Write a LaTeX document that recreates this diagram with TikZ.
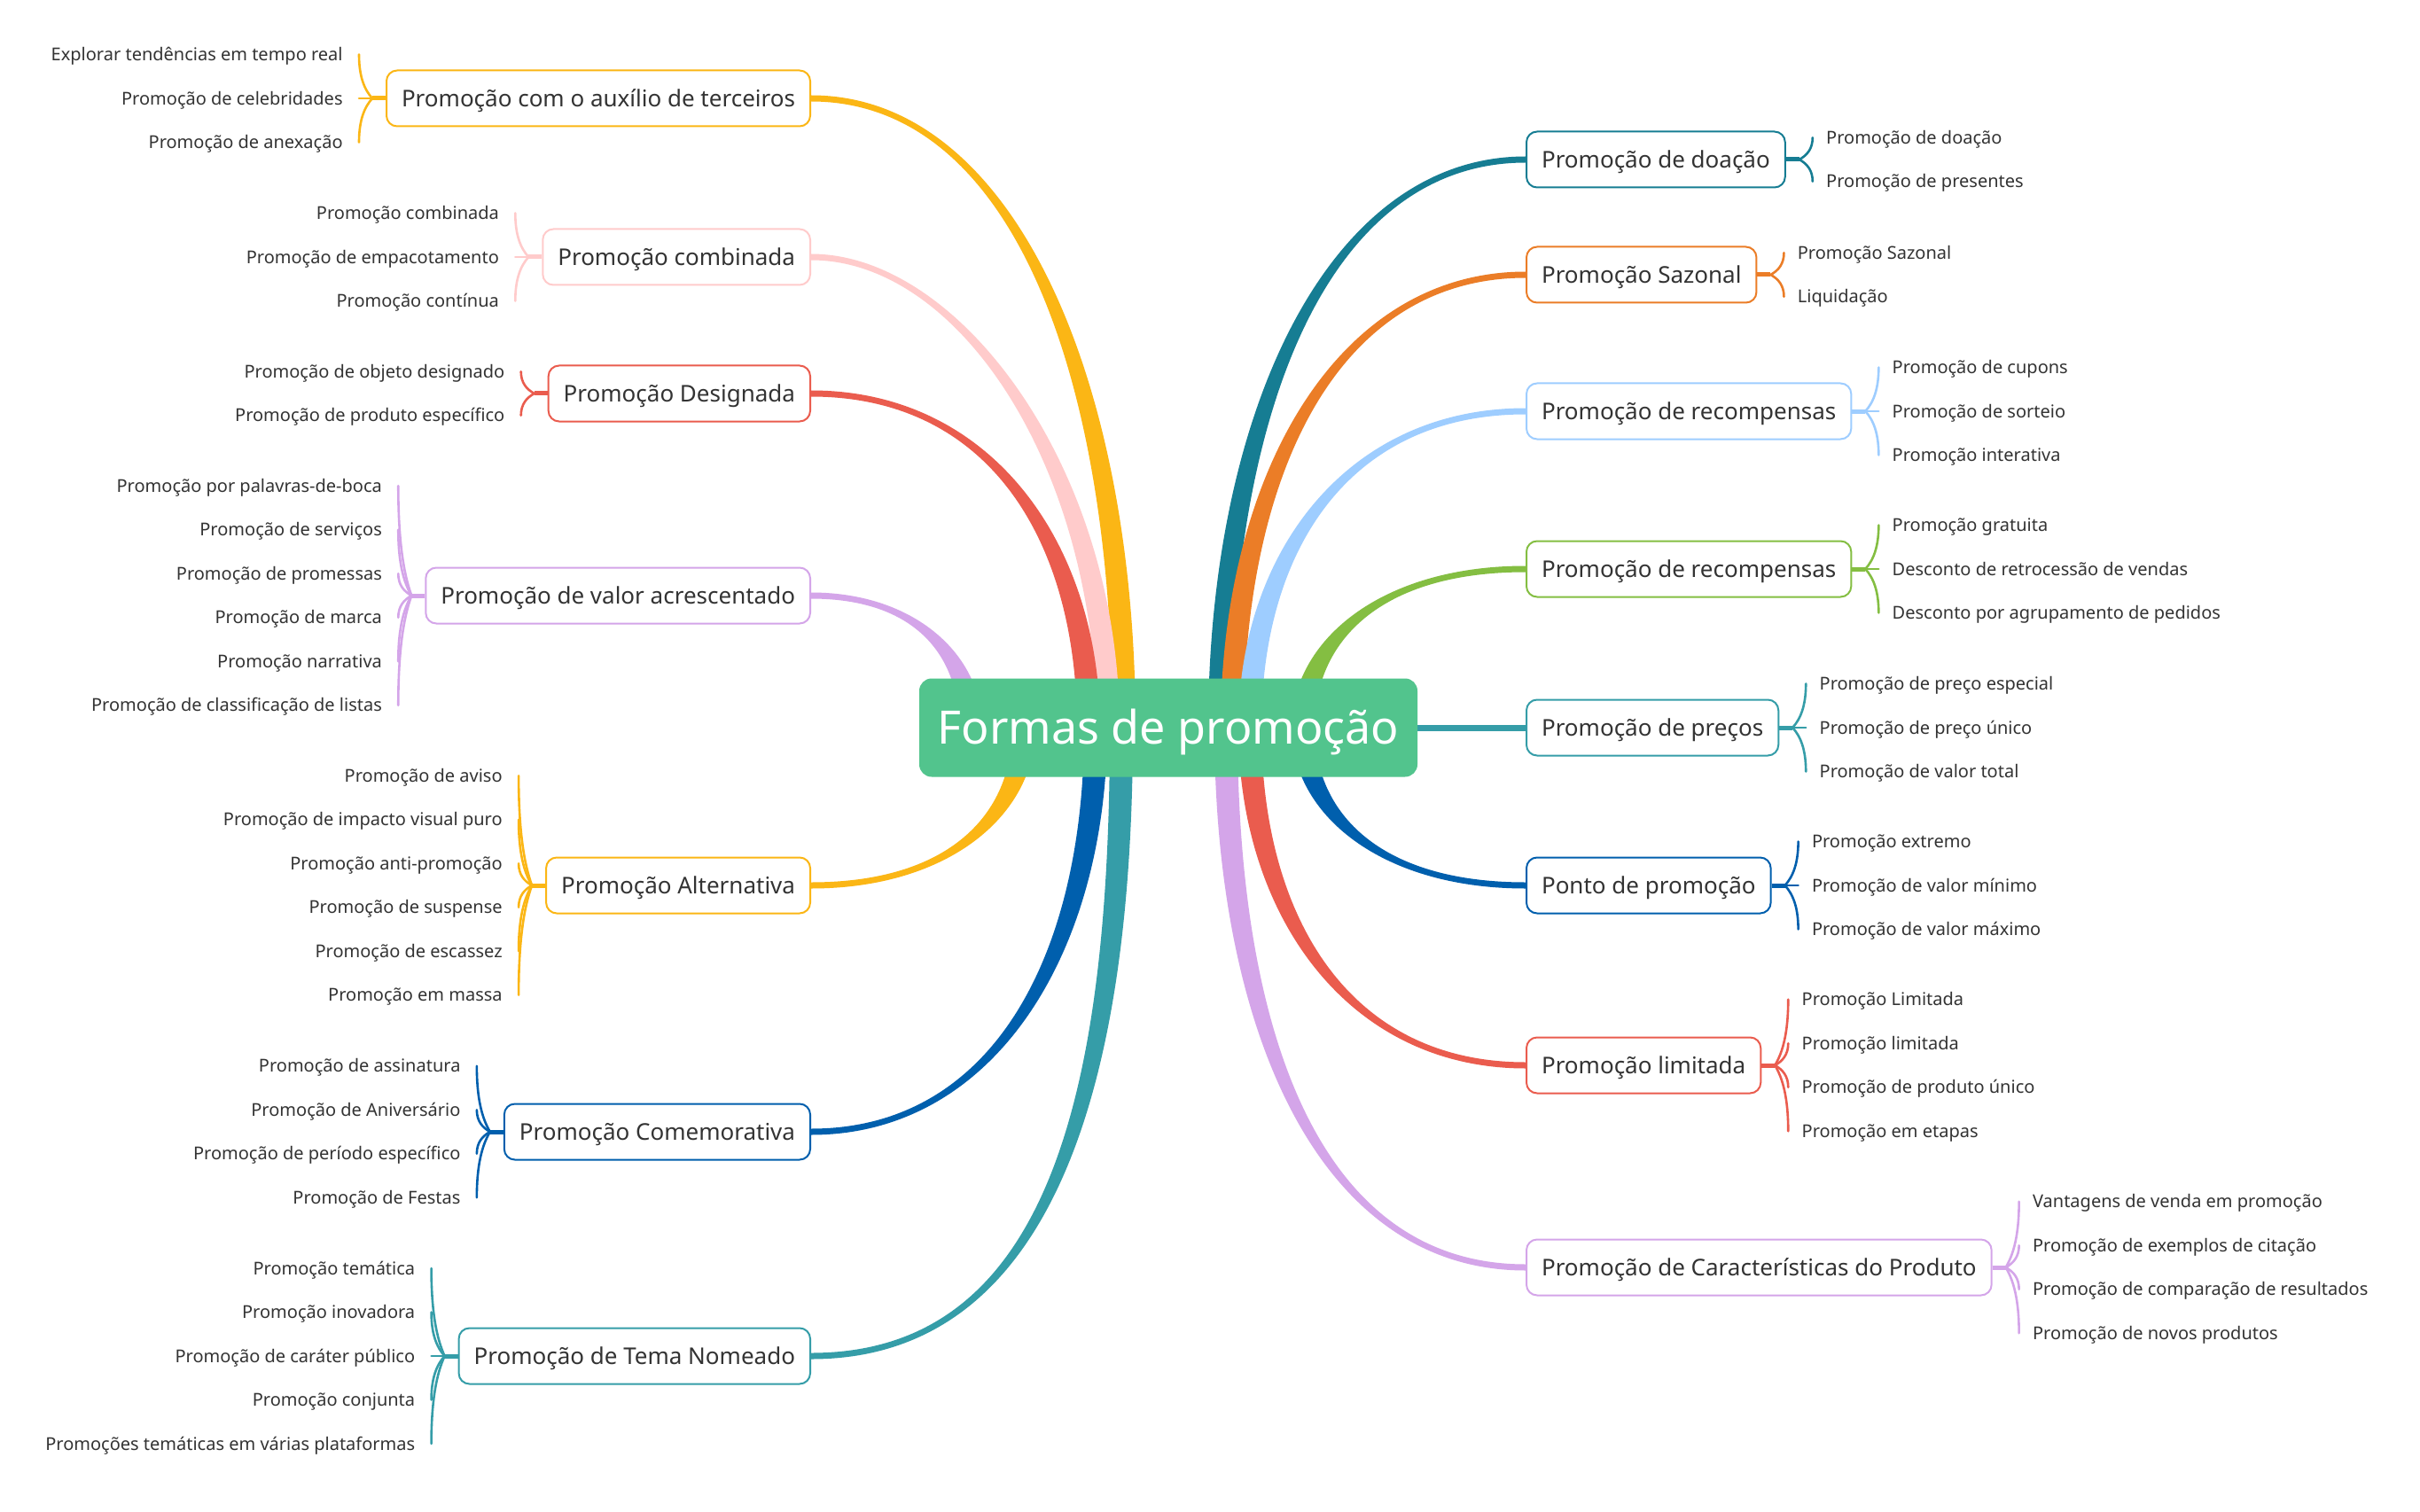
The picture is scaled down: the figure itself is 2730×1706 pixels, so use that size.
\documentclass[tikz,border=0pt]{standalone}
\usepackage{fontspec}
\setmainfont{Noto Sans}
\usetikzlibrary{calc}
\definecolor{txt}{HTML}{333333}
\definecolor{cyel}{HTML}{FBB615}
\definecolor{cpink}{HTML}{FFCBCB}
\definecolor{cred}{HTML}{EA5C4E}
\definecolor{cpur}{HTML}{D4A5E9}
\definecolor{cdblue}{HTML}{005FAD}
\definecolor{cteal}{HTML}{359DA8}
\definecolor{cdteal}{HTML}{167D93}
\definecolor{corange}{HTML}{EB7D27}
\definecolor{clblue}{HTML}{9ECDFF}
\definecolor{cgreenb}{HTML}{84BE42}
\definecolor{croot}{HTML}{52C48D}
\pgfdeclarelayer{bg}
\pgfsetlayers{bg,main}
% right-hand group of leaves
\newcommand{\myrightleaves}[3]{%
  \draw[stub=#2] (#1.east) -- ($(#1.east)+(15,0)$);
  \foreach \o/\t [count=\i] in {#3} {
    \node[leaf, anchor=west] (#1-\i) at ($(#1.east)+(45,\o)$) {\t};
    \draw[twig=#2] ($(#1.east)+(15,0)$) .. controls ($(#1.east)+(24,{0.2*(\o)})$) and ($(#1-\i.west)+(-15,{-0.5*(\o)})$) .. ($(#1-\i.west)+(-15,0)$);
  }}
% left-hand group of leaves
\newcommand{\myleftleaves}[3]{%
  \draw[stub=#2] (#1.west) -- ($(#1.west)+(-15,0)$);
  \foreach \o/\t [count=\i] in {#3} {
    \node[leaf, anchor=east] (#1-\i) at ($(#1.west)+(-48,\o)$) {\t};
    \draw[twig=#2] ($(#1.west)+(-15,0)$) .. controls ($(#1.west)+(-24,{0.2*(\o)})$) and ($(#1-\i.east)+(18,{-0.5*(\o)})$) .. ($(#1-\i.east)+(18,0)$);
  }}
% tapered main branch: #1 colour, #2 start (in root), #3 end (box side), #4 a, #5 b
\newcommand{\mybranch}[5]{%
  \fill[#1] let \p1=#2, \p2=(#3), \n1={sign(\x2-\x1)}, \n2={sign(\y1-\y2)} in
    ({\x1+(\n1)*6.5pt},\y1) .. controls ({\x1+(\n1)*6.5pt},{\y1+#5*(\y2-\y1)}) and ({\x2+#4*(\x1-\x2)},{\y2+(\n2)*1.75pt}) .. (\x2,{\y2+(\n2)*1.75pt})
    -- (\x2,{\y2-(\n2)*1.75pt}) .. controls ({\x2+#4*(\x1-\x2)},{\y2-(\n2)*1.75pt}) and ({\x1-(\n1)*6.5pt},{\y1+#5*(\y2-\y1)}) .. ({\x1-(\n1)*6.5pt},\y1) -- cycle;}
\begin{document}
\begin{tikzpicture}[x=0.5pt,y=-0.5pt,
  mainbox/.style={draw=#1, line width=1pt, rounded corners=6pt, fill=white, minimum height=31.5pt, inner xsep=8.5pt, inner ysep=0pt, text height=9.3pt, text depth=0pt, text=txt, font=\fontsize{13}{15}\selectfont},
  leaf/.style={inner sep=0pt, text height=7.1pt, text depth=0pt, text=txt, font=\fontsize{10}{12}\selectfont},
  twig/.style={line width=1.3pt, draw=#1, line cap=round},
  stub/.style={line width=2.5pt, draw=#1},
  rootbox/.style={fill=croot, rounded corners=7pt, minimum width=281pt, minimum height=55.5pt, text height=18.6pt, text depth=0pt, text=white, font=\fontsize{26}{30}\selectfont, inner sep=0pt}
]
\useasboundingbox (0,0) rectangle (2730,1706);

\node[rootbox] (root) at (1318,821) {Formas de promoção};

% left boxes
\node[mainbox=cyel, anchor=east] (L1) at (915,111) {Promoção com o auxílio de terceiros};
\node[mainbox=cpink, anchor=east] (L2) at (915,290) {Promoção combinada};
\node[mainbox=cred, anchor=east] (L3) at (915,444) {Promoção Designada};
\node[mainbox=cpur, anchor=east] (L4) at (915,672) {Promoção de valor acrescentado};
\node[mainbox=cyel, anchor=east] (L5) at (915,999) {Promoção Alternativa};
\node[mainbox=cdblue, anchor=east] (L6) at (915,1277) {Promoção Comemorativa};
\node[mainbox=cteal, anchor=east] (L7) at (915,1530) {Promoção de Tema Nomeado};

% right boxes
\node[mainbox=cdteal, anchor=west] (R1) at (1721,180) {Promoção de doação};
\node[mainbox=corange, anchor=west] (R2) at (1721,310) {Promoção Sazonal};
\node[mainbox=clblue, anchor=west] (R3) at (1721,464) {Promoção de recompensas};
\node[mainbox=cgreenb, anchor=west] (R4) at (1721,642) {Promoção de recompensas};
\node[mainbox=cteal, anchor=west] (R5) at (1721,821) {Promoção de preços};
\node[mainbox=cdblue, anchor=west] (R6) at (1721,999) {Ponto de promoção};
\node[mainbox=cred, anchor=west] (R7) at (1721,1202) {Promoção limitada};
\node[mainbox=cpur, anchor=west] (R8) at (1721,1430) {Promoção de Características do Produto};

% leaves
\myleftleaves{L1}{cyel}{-49.5/Explorar tendências em tempo real,0/Promoção de celebridades,49.5/Promoção de anexação}
\myleftleaves{L2}{cpink}{-49.5/Promoção combinada,0/Promoção de empacotamento,49.5/Promoção contínua}
\myleftleaves{L3}{cred}{-24.75/Promoção de objeto designado,24.75/Promoção de produto específico}
\myleftleaves{L4}{cpur}{-123.75/Promoção por palavras-de-boca,-74.25/Promoção de serviços,-24.75/Promoção de promessas,24.75/Promoção de marca,74.25/Promoção narrativa,123.75/Promoção de classificação de listas}
\myleftleaves{L5}{cyel}{-123.75/Promoção de aviso,-74.25/Promoção de impacto visual puro,-24.75/Promoção anti-promoção,24.75/Promoção de suspense,74.25/Promoção de escassez,123.75/Promoção em massa}
\myleftleaves{L6}{cdblue}{-74.25/Promoção de assinatura,-24.75/Promoção de Aniversário,24.75/Promoção de período específico,74.25/Promoção de Festas}
\myleftleaves{L7}{cteal}{-99/Promoção temática,-49.5/Promoção inovadora,0/Promoção de caráter público,49.5/Promoção conjunta,99/Promoções temáticas em várias plataformas}

\myrightleaves{R1}{cdteal}{-24.75/Promoção de doação,24.75/Promoção de presentes}
\myrightleaves{R2}{corange}{-24.75/Promoção Sazonal,24.75/Liquidação}
\myrightleaves{R3}{clblue}{-49.5/Promoção de cupons,0/Promoção de sorteio,49.5/Promoção interativa}
\myrightleaves{R4}{cgreenb}{-49.5/Promoção gratuita,0/Desconto de retrocessão de vendas,49.5/Desconto por agrupamento de pedidos}
\myrightleaves{R5}{cteal}{-49.5/Promoção de preço especial,0/Promoção de preço único,49.5/Promoção de valor total}
\myrightleaves{R6}{cdblue}{-49.5/Promoção extremo,0/Promoção de valor mínimo,49.5/Promoção de valor máximo}
\myrightleaves{R7}{cred}{-74.25/Promoção Limitada,-24.75/Promoção limitada,24.75/Promoção de produto único,74.25/Promoção em etapas}
\myrightleaves{R8}{cpur}{-74.25/Vantagens de venda em promoção,-24.75/Promoção de exemplos de citação,24.75/Promoção de comparação de resultados,74.25/Promoção de novos produtos}

\begin{pgfonlayer}{bg}
\fill[white] (0,0) rectangle (2730,1706);
\mybranch{cyel}{($(root.center)+(-50,0)$)}{L1.east}{0.65}{0.55}
\mybranch{cpink}{($(root.center)+(-68,0)$)}{L2.east}{0.5}{0.55}
\mybranch{cred}{($(root.center)+(-90,0)$)}{L3.east}{0.65}{0.55}
\mybranch{cpur}{($(root.center)+(-223,0)$)}{L4.east}{0.65}{0.55}
\mybranch{cyel}{($(root.center)+(-163,0)$)}{L5.east}{0.65}{0.55}
\mybranch{cdblue}{($(root.center)+(-82,0)$)}{L6.east}{0.65}{0.55}
\mybranch{cteal}{($(root.center)+(-53,0)$)}{L7.east}{0.75}{0.6}
\mybranch{cdteal}{($(root.center)+(58,0)$)}{R1.west}{0.65}{0.55}
\mybranch{corange}{($(root.center)+(72,0)$)}{R2.west}{0.65}{0.55}
\mybranch{clblue}{($(root.center)+(92,0)$)}{R3.west}{0.65}{0.55}
\mybranch{cgreenb}{($(root.center)+(152,0)$)}{R4.west}{0.65}{0.55}
\draw[cteal, line width=3.5pt] (root.east) -- (R5.west);
\mybranch{cdblue}{($(root.center)+(152,0)$)}{R6.west}{0.65}{0.55}
\mybranch{cred}{($(root.center)+(92,0)$)}{R7.west}{0.65}{0.55}
\mybranch{cpur}{($(root.center)+(65,0)$)}{R8.west}{0.7}{0.55}
\end{pgfonlayer}
\end{tikzpicture}
\end{document}
